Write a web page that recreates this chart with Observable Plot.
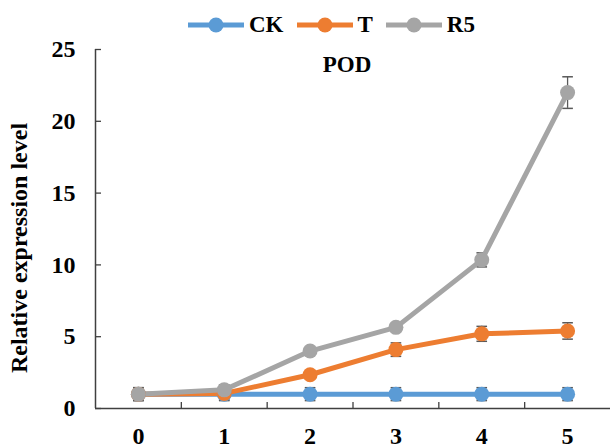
<!DOCTYPE html>
<html>
<head>
<meta charset="utf-8">
<script src="https://cdn.jsdelivr.net/npm/d3@7"></script>
<script src="https://cdn.jsdelivr.net/npm/@observablehq/plot@0.6"></script>
<style>
  html, body { margin: 0; padding: 0; background: #fff; }
  #wrap { position: relative; width: 610px; height: 448px; font-family: "Liberation Serif", "Times New Roman", serif; }
  #legend { position: absolute; top: 12px; left: 188px; display: flex; gap: 13px; font-weight: bold; font-size: 23px; line-height: 26px; }
  .item { display: flex; align-items: center; gap: 5px; }
  .item svg { display: block; }
  #plot { position: absolute; top: 0; left: 0; }
</style>
</head>
<body>
<div id="wrap">
  <div id="plot"></div>
  <div id="legend"></div>
</div>
<script>
const days = [0, 1, 2, 3, 4, 5];
const seriesNames = ["CK", "T", "R5"];
const colors = ["#5B9BD5", "#ED7D31", "#A5A5A5"];
const ckValues = [1, 1, 1, 1, 1, 1];
const ckErrors = [0.45, 0.45, 0.45, 0.45, 0.45, 0.45];
const tValues = [1, 1.05, 2.35, 4.1, 5.2, 5.4];
const tErrors = [0.3, 0.45, 0.2, 0.47, 0.52, 0.57];
const r5Values = [1, 1.3, 4.0, 5.65, 10.35, 22.0];
const r5Errors = [0.45, 0.35, 0.2, 0.25, 0.49, 1.1];
const yTicks = [0, 5, 10, 15, 20, 25];
const xDomain = [-0.5, 5.5];
const xBoundaries = [0.5, 1.5, 2.5, 3.5, 4.5];
const title = "POD";
const yLabel = "Relative expression level";

const data = [];
const vals = [ckValues, tValues, r5Values];
const errs = [ckErrors, tErrors, r5Errors];
seriesNames.forEach((s, i) => days.forEach((d, j) => data.push({series: s, day: d, value: vals[i][j], err: errs[i][j]})));

const capSymbol = { draw(ctx, size) { const w = Math.sqrt(size) / 2; ctx.moveTo(-w, 0); ctx.lineTo(w, 0); } };
const font = "Liberation Serif, Times New Roman, serif";
const axisColor = "#404040";

const chart = Plot.plot({
  width: 610,
  height: 448,
  marginLeft: 95,
  marginRight: 0,
  marginTop: 49,
  marginBottom: 40,
  style: { fontFamily: font, fontWeight: "bold", fontSize: "24px", background: "white", color: "black" },
  x: { domain: xDomain, axis: null },
  y: { domain: [0, 25], axis: null },
  color: { domain: seriesNames, range: colors },
  marks: [
    Plot.axisY({ ticks: yTicks, label: null, tickSize: 0, tickPadding: 20, fontSize: 24, fontWeight: "bold", fill: "black" }),
    Plot.axisY({ ticks: yTicks, label: null, tickSize: -6, tickFormat: () => "", stroke: axisColor, strokeWidth: 1.3 }),
    Plot.axisX({ ticks: days, label: null, tickSize: 0, tickPadding: 18, fontSize: 24, fontWeight: "bold", fill: "black", tickFormat: d => String(d) }),
    Plot.axisX({ ticks: xBoundaries, label: null, tickSize: -6, tickFormat: () => "", stroke: axisColor, strokeWidth: 1.3 }),
    Plot.ruleY([0], { stroke: axisColor, strokeWidth: 1.5 }),
    Plot.ruleX([xDomain[0]], { stroke: axisColor, strokeWidth: 1.5 }),
    Plot.ruleX(data, { x: "day", y1: d => d.value - d.err, y2: d => d.value + d.err, stroke: "#595959", strokeWidth: 1.3 }),
    Plot.dot(data, { x: "day", y: d => d.value - d.err, symbol: capSymbol, r: 6, stroke: "#595959", strokeWidth: 1.5, fill: "none" }),
    Plot.dot(data, { x: "day", y: d => d.value + d.err, symbol: capSymbol, r: 6, stroke: "#595959", strokeWidth: 1.5, fill: "none" }),
    Plot.line(data, { x: "day", y: "value", z: "series", stroke: "series", strokeWidth: 5 }),
    Plot.dot(data, { x: "day", y: "value", fill: "series", r: 7.5 }),
    Plot.text([title], { frameAnchor: "top", dy: 15, dx: -6, text: d => d, fontSize: 23, fontWeight: "bold", fill: "black", lineAnchor: "middle" }),
    Plot.text([yLabel], { frameAnchor: "left", dx: -76, dy: 19, rotate: -90, textAnchor: "middle", lineAnchor: "middle", text: d => d, fontSize: 24, fontWeight: "bold", fill: "black" })
  ]
});
document.getElementById("plot").appendChild(chart);

const legend = document.getElementById("legend");
seriesNames.forEach((s, i) => {
  const item = document.createElement("div");
  item.className = "item";
  item.innerHTML = `<svg width="56" height="16"><line x1="0" x2="56" y1="8" y2="8" stroke="${colors[i]}" stroke-width="5"/><circle cx="28" cy="8" r="7.5" fill="${colors[i]}"/></svg><span>${s}</span>`;
  legend.appendChild(item);
});
</script>
</body>
</html>
